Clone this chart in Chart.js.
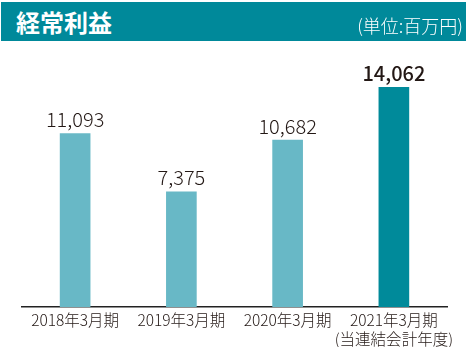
<!DOCTYPE html>
<html><head><meta charset="utf-8">
<script src="https://cdn.jsdelivr.net/npm/chart.js@4/dist/chart.umd.min.js"></script>
<style>
html,body{margin:0;padding:0;background:#fff;width:471px;height:347px;overflow:hidden;font-family:"Noto Sans CJK JP","Noto Sans",sans-serif;}
#bar{position:absolute;left:1px;top:2px;width:465px;height:39px;background:#00899a;}
#title{position:absolute;left:16px;top:2px;color:#fff;font-weight:bold;font-size:24px;line-height:39px;}
#unit{position:absolute;right:8px;top:6px;color:#fff;font-size:18px;line-height:39px;font-weight:300;}
#wrap{position:absolute;left:0;top:0;width:471px;height:347px;}
</style></head><body>
<div id="wrap"><canvas id="c" width="471" height="347"></canvas></div>
<div id="bar"></div>
<div id="title">経常利益</div>
<div id="unit">(単位:百万円)</div>
<script>
const categories = ["2018年3月期", "2019年3月期", "2020年3月期", ["2021年3月期", "(当連結会計年度)"]];
const values = [11093, 7375, 10682, 14062];
const valueLabels = ["11,093", "7,375", "10,682", "14,062"];
const barColors = ["#68b8c6", "#68b8c6", "#68b8c6", "#008a9a"];

const valuePlugin = {
  id: 'vals',
  afterDatasetsDraw(chart) {
    const ctx = chart.ctx;
    const meta = chart.getDatasetMeta(0);
    meta.data.forEach((el, i) => {
      ctx.save();
      const last = i === values.length - 1;
      ctx.font = (last ? '500 ' : '300 ') + '20px "Noto Sans CJK JP"';
      ctx.fillStyle = '#231815';
      ctx.textAlign = 'center';
      ctx.textBaseline = 'bottom';
      ctx.fillText(valueLabels[i], el.x, el.y - 4);
      ctx.restore();
    });
  }
};

new Chart(document.getElementById('c'), {
  type: 'bar',
  data: { labels: categories, datasets: [{ data: values, backgroundColor: barColors, barThickness: 30 }] },
  options: {
    responsive: false, animation: false,
    layout: { padding: { left: 22, right: 24, top: 57, bottom: 0 } },
    plugins: { legend: { display: false }, tooltip: { enabled: false } },
    scales: {
      y: { display: false, min: 0, max: 16000 },
      x: {
        grid: { display: false, drawTicks: false },
        border: { display: true, color: '#222', width: 1.5 },
        ticks: { color: '#231815', font: { family: 'Noto Sans CJK JP', size: 15.5, weight: '300' }, padding: 4, maxRotation: 0, autoSkip: false },
        afterFit(scale) { scale.height = 40; }
      }
    }
  },
  plugins: [valuePlugin]
});
</script>
</body></html>
